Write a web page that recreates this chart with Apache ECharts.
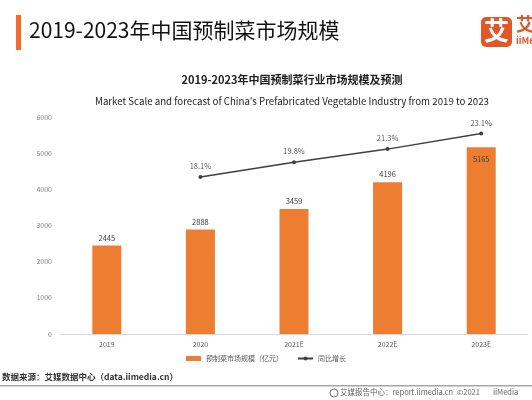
<!DOCTYPE html>
<html>
<head>
<meta charset="utf-8">
<script src="https://cdn.jsdelivr.net/npm/echarts@6/dist/echarts.min.js"></script>
<style>
  html, body { margin: 0; padding: 0; background: #fff; }
  #chart { width: 532px; height: 400px; }
</style>
</head>
<body>
<div id="chart"></div>
<script>
const categories = ['2019', '2020', '2021E', '2022E', '2023E'];
const marketScale = [2445, 2888, 3459, 4196, 5165];
const growthRate = [null, 18.1, 19.8, 21.3, 23.1];
const yTicks = [0, 1000, 2000, 3000, 4000, 5000, 6000];

const cjk = '"Noto Sans CJK SC", "Noto Sans", sans-serif';
const chart = echarts.init(document.getElementById('chart'));

// last bar keeps its label inside, under the line label
const barData = marketScale.map(function (v, i) {
  if (i === marketScale.length - 1) {
    return { value: v, label: { position: 'insideTop', distance: 8 } };
  }
  return v;
});

let options = {
  animation: false,
  textStyle: { fontFamily: cjk },
  title: [
    {
      text: '2019-2023年中国预制菜行业市场规模及预测',
      left: 287, top: 69, textAlign: 'center',
      textStyle: { fontSize: 11, fontWeight: 'bold', color: '#222' }
    },
    {
      text: "Market Scale and forecast of China's Prefabricated Vegetable Industry from 2019 to 2023",
      left: 287, top: 91, textAlign: 'center',
      textStyle: { fontSize: 9.7, fontWeight: 'normal', color: '#222' }
    }
  ],
  grid: { left: 60, right: 4, top: 117, bottom: 66 },
  legend: {
    bottom: 33, left: 'center',
    itemWidth: 15, itemHeight: 5, itemGap: 14,
    textStyle: { fontSize: 7, color: '#595959' },
    data: [
      { name: '预制菜市场规模（亿元）', icon: 'rect' },
      { name: '同比增长' }
    ]
  },
  xAxis: {
    type: 'category',
    data: categories,
    axisLine: { lineStyle: { color: '#d9d9d9' } },
    axisTick: { show: false },
    axisLabel: { fontSize: 7, color: '#595959', margin: 7 }
  },
  yAxis: [
    {
      type: 'value', min: yTicks[0], max: yTicks[yTicks.length - 1], interval: 1000,
      splitLine: { show: false },
      axisLabel: { fontSize: 7, color: '#7f7f7f', margin: 8, formatter: function (v) { return String(v); } }
    },
    { type: 'value', min: 0, max: 25, show: false, splitLine: { show: false } }
  ],
  series: [
    {
      name: '预制菜市场规模（亿元）',
      type: 'bar',
      data: barData,
      barWidth: 29,
      itemStyle: { color: '#ed7d31' },
      label: { show: true, position: 'top', fontSize: 7.5, color: '#404040', distance: 4 }
    },
    {
      name: '同比增长',
      type: 'line',
      yAxisIndex: 1,
      data: growthRate,
      symbol: 'circle',
      symbolSize: 4,
      lineStyle: { color: '#404040', width: 1.5 },
      itemStyle: { color: '#404040' },
      label: {
        show: true, position: 'top', distance: 5, fontSize: 7.5, color: '#595959',
        formatter: function (p) { return p.value + '%'; }
      }
    }
  ],
  graphic: [
    { type: 'rect', shape: { x: 16, y: 15, width: 5, height: 35 }, style: { fill: '#f26a2e' } },
    {
      type: 'text', left: 29, top: 20,
      style: { text: '2019-2023年中国预制菜市场规模', fontSize: 21, fontWeight: 'normal', fill: '#111', fontFamily: cjk }
    },
    { type: 'rect', shape: { x: 481, y: 17, width: 31, height: 30, r: 5 }, style: { fill: '#e0582a' } },
    {
      type: 'text', left: 484, top: 18,
      style: { text: '艾', fontSize: 25, fontWeight: 'bold', fill: '#fff', fontFamily: cjk }
    },
    {
      type: 'text', left: 516, top: 15,
      style: { text: '艾', fontSize: 18, fontWeight: 'bold', fill: '#e0582a', fontFamily: cjk }
    },
    {
      type: 'text', left: 516, top: 36,
      style: { text: 'iiMe', fontSize: 9, fontWeight: 'bold', fill: '#e0582a', fontFamily: cjk }
    },
    {
      type: 'text', left: 2, top: 373,
      style: { text: '数据来源：艾媒数据中心（data.iimedia.cn）', fontSize: 8.5, fontWeight: 'bold', fill: '#333', fontFamily: cjk }
    },
    { type: 'rect', shape: { x: 0, y: 385, width: 532, height: 1.5 }, style: { fill: '#a6a6a6' } },
    { type: 'circle', shape: { cx: 334, cy: 393, r: 4 }, style: { fill: 'none', stroke: '#777', lineWidth: 1 } },
    {
      type: 'text', left: 340, top: 388,
      style: { text: '艾媒报告中心：report.iimedia.cn', fontSize: 7.5, fill: '#666', fontFamily: cjk }
    },
    {
      type: 'text', left: 457, top: 388,
      style: { text: '©2021', fontSize: 7.5, fill: '#666', fontFamily: cjk }
    },
    {
      type: 'text', left: 493, top: 388,
      style: { text: 'iiMedia', fontSize: 7.5, fill: '#666', fontFamily: cjk }
    }
  ]
};

chart.setOption(options);
</script>
</body>
</html>
